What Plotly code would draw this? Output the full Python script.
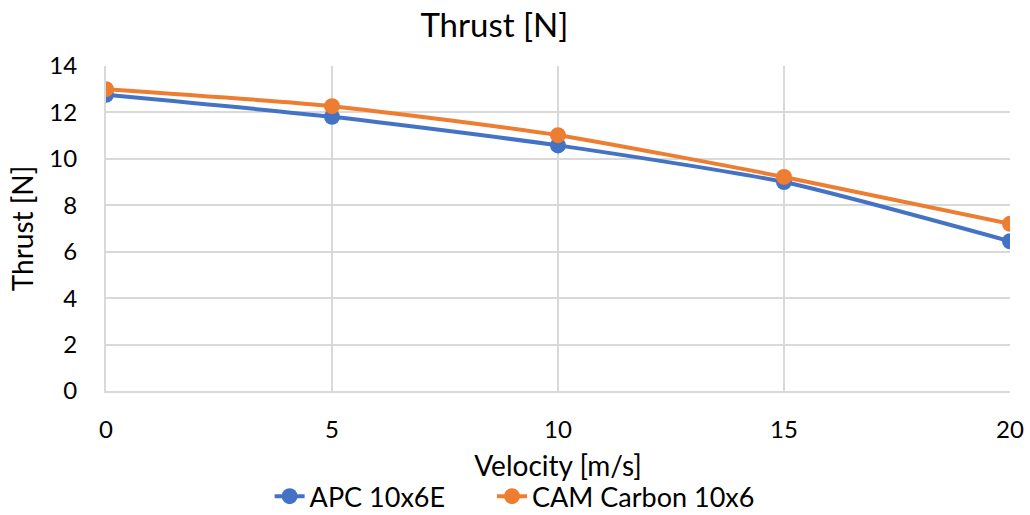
import plotly.graph_objects as go

velocity = [0, 5, 10, 15, 20]
apc_thrust = [12.76, 11.81, 10.58, 9.0, 6.45]
cam_thrust = [13.0, 12.27, 11.02, 9.22, 7.2]

series_names = ["APC 10x6E", "CAM Carbon 10x6"]
series_colors = ["#4472C4", "#ED7D31"]
legend_ids = ["legend", "legend2"]

FONT = "Lato"

fig = go.Figure()
for name, ys, color, lg in zip(series_names, [apc_thrust, cam_thrust], series_colors, legend_ids):
    fig.add_trace(go.Scatter(
        x=velocity, y=ys, name=name, mode="lines+markers",
        line=dict(color=color, width=4, shape="spline", smoothing=0.6),
        marker=dict(color=color, size=16),
        legend=lg,
    ))

legend_style = dict(orientation="h", xanchor="left", y=-0.325, yanchor="middle",
                    font=dict(size=27), bgcolor="rgba(0,0,0,0)")

fig.update_layout(
    width=1030, height=515,
    margin=dict(l=106, r=20, t=66, b=124, autoexpand=False),
    paper_bgcolor="white", plot_bgcolor="white",
    font=dict(family=FONT, size=24, color="#000000"),
    title=dict(text="Thrust [N]", x=0.48, xanchor="center", y=0.951, yanchor="middle",
               font=dict(size=33, family=FONT, color="#000000")),
    xaxis=dict(
        range=[0, 20], tickvals=[0, 5, 10, 15, 20], showgrid=True,
        gridcolor="#D9D9D9", gridwidth=2, zeroline=False,
        showline=True, linecolor="#D9D9D9", linewidth=2,
        ticks="", ticklabelstandoff=16, automargin=False,
        title=dict(text="Velocity [m/s]", standoff=15, font=dict(size=28)),
    ),
    yaxis=dict(
        range=[0, 14], dtick=2, showgrid=True,
        gridcolor="#D9D9D9", gridwidth=2, zeroline=False,
        showline=True, linecolor="#D9D9D9", linewidth=2,
        ticks="", ticklabelstandoff=22, automargin=False,
        title=dict(text="Thrust [N]", standoff=8, font=dict(size=28)),
    ),
    legend=dict(x=0.181, **legend_style),
    legend2=dict(x=0.427, **legend_style),
    showlegend=True,
)

fig.write_html("out.html")
